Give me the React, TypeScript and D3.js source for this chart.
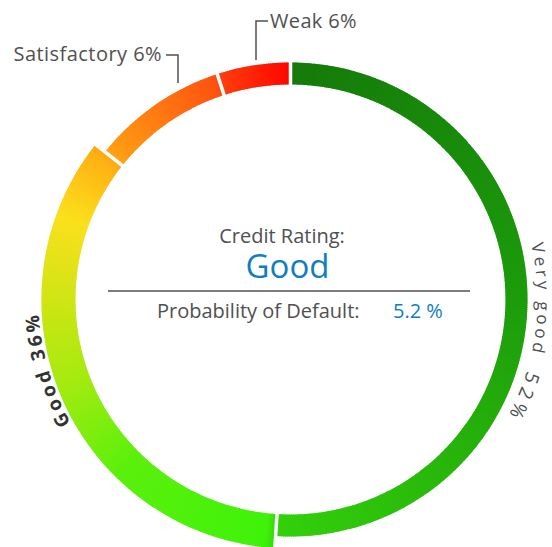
import React from "react";
import * as d3 from "d3";

// ---- data ----
const categories = ["Very good", "Good", "Satisfactory", "Weak"];
const arcShares = [51, 34.7, 9.3, 5]; // arc sizes as drawn
const labelPercents = [52, 36, 6, 6]; // percentages printed in labels
const selectedCategory = "Good";
const creditRating = "Good";
const probabilityOfDefault = "5.2 %";

// conic colour stops (degrees clockwise from top)
const colorStopAngles = [0, 90, 183, 186, 225, 250, 270, 290, 306, 311, 341, 343, 360];
const colorStopValues = [
  "#157a0a", "#1c9c0b", "#33d00b", "#3ff20a", "#5cf00c", "#a6ea10", "#cfe514",
  "#fbe01c", "#ffb214", "#ff9a12", "#ff5210", "#ff3c0c", "#ff0500",
];

const FONT = "'Open Sans', sans-serif";
const GREY = "#505050";

export default function App() {
  const W = 552, H = 547;
  const cx = 290.5, cy = 299.5;
  const rIn = 215, rOut = 237, rOutSel = 249;

  const pie = d3.pie<number>().sort(null).value((d) => d);
  const arcs = pie(arcShares);
  const rad = (deg: number) => (deg * Math.PI) / 180;
  const color = d3
    .scaleLinear<string>()
    .domain(colorStopAngles.map(rad))
    .range(colorStopValues)
    .interpolate(d3.interpolateRgb);
  const arcGen = d3.arc<any>();

  const pieces: { d: string; fill: string }[] = [];
  arcs.forEach((a, i) => {
    const outer = categories[i] === selectedCategory ? rOutSel : rOut;
    const step = rad(0.5);
    const n = Math.max(1, Math.ceil((a.endAngle - a.startAngle) / step));
    const w = (a.endAngle - a.startAngle) / n;
    for (let k = 0; k < n; k++) {
      const s = a.startAngle + k * w;
      const e = Math.min(a.endAngle, s + w + 0.004);
      pieces.push({
        d: arcGen({ innerRadius: rIn, outerRadius: outer, startAngle: s, endAngle: e }) as string,
        fill: color(s + w / 2),
      });
    }
  });

  const boundaries = arcs.map((a) => a.startAngle);
  const pt = (ang: number, r: number): [number, number] => [
    cx + r * Math.sin(ang),
    cy - r * Math.cos(ang),
  ];

  const circlePath = (r: number) => {
    const p = d3.path();
    p.moveTo(cx, cy - r);
    p.arc(cx, cy, r, -Math.PI / 2, (3 * Math.PI) / 2);
    return p.toString();
  };

  const rVG = 247, rGood = 252;

  return (
    <svg
      width={W}
      height={H}
      style={{ position: "absolute", left: 0, top: 0, background: "#fff" }}
      fontFamily={FONT}
    >
      <defs>
        <path id="circVG" d={circlePath(rVG)} />
        <path id="circGood" d={circlePath(rGood)} />
      </defs>
      <g transform={`translate(${cx},${cy})`}>
        {pieces.map((p, i) => (
          <path key={i} d={p.d} fill={p.fill} />
        ))}
      </g>
      {boundaries.map((b, i) => {
        const [x1, y1] = pt(b, rIn - 3);
        const [x2, y2] = pt(b, rOutSel + 3);
        return <line key={i} x1={x1} y1={y1} x2={x2} y2={y2} stroke="#fff" strokeWidth={3.5} />;
      })}

      {/* labels along the ring */}
      <text fontSize={17} fill={GREY}>
        <textPath href="#circVG" startOffset={rad(77) * rVG}>
          <tspan letterSpacing={3.6}>{categories[0]}</tspan>
          <tspan dx={16} fontSize={19} letterSpacing={5}>{`${labelPercents[0]}%`}</tspan>
        </textPath>
      </text>
      <text fontSize={19} fill="#333" fontWeight="bold" letterSpacing={3}>
        <textPath href="#circGood" startOffset={rad(240.5) * rGood}>
          {`${categories[1]} ${labelPercents[1]}%`}
        </textPath>
      </text>

      {/* leader labels */}
      <text x={162} y={61} fontSize={20} fill={GREY} textAnchor="end" letterSpacing={0.45}>
        {`${categories[2]} ${labelPercents[2]}%`}
      </text>
      <polyline points="166,55 178,55 178,83" fill="none" stroke={GREY} strokeWidth={1.5} />
      <text x={270} y={28} fontSize={20} fill={GREY} letterSpacing={0.35}>
        {`${categories[3]} ${labelPercents[3]}%`}
      </text>
      <polyline points="268,21 256,21 256,60" fill="none" stroke={GREY} strokeWidth={1.5} />

      {/* centre block */}
      <text x={282} y={243} fontSize={20} fill={GREY} textAnchor="middle">
        Credit Rating:
      </text>
      <text x={287.5} y={278} fontSize={33} fill="#0f7dc2" textAnchor="middle">
        {creditRating}
      </text>
      <line x1={108} x2={470} y1={291} y2={291} stroke={GREY} strokeWidth={1.5} />
      <text x={157} y={318} fontSize={20} fill={GREY}>
        Probability of Default:
      </text>
      <text x={393} y={318} fontSize={20} fill="#0f7dc2">
        {probabilityOfDefault}
      </text>
    </svg>
  );
}
